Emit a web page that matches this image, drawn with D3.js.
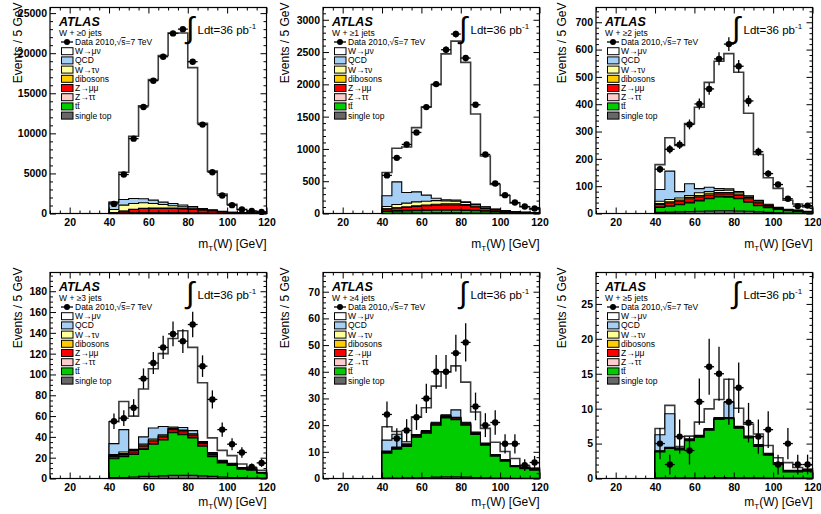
<!DOCTYPE html>
<html>
<head>
<meta charset="utf-8">
<script src="https://cdn.jsdelivr.net/npm/d3@7"></script>
<style>
  body { margin: 0; background: #fff; }
  svg { display: block; }
  text { font-family: "Liberation Sans", Arial, Helvetica, sans-serif; fill: #000; }
</style>
</head>
<body>
<svg id="chart" width="821" height="514"></svg>
<script>
// ---- binning (transverse mass, 5 GeV bins from 40 to 120 GeV) ----
const binLow = [40, 45, 50, 55, 60, 65, 70, 75, 80, 85, 90, 95, 100, 105, 110, 115];
const binWidth = 5;

// ---- panels: jet multiplicity selections ----
const jetLabels = ["W + \u22650 jets", "W + \u22651 jets", "W + \u22652 jets",
                   "W + \u22653 jets", "W + \u22654 jets", "W + \u22655 jets"];
const yMax   = [25700, 3190, 754, 198, 77.2, 29.5];
const yMajor = [5000, 500, 100, 20, 10, 5];
const yMinor = [1000, 100, 20, 5, 2, 1];
const xMajor = [20, 40, 60, 80, 100, 120];
const xMinor = [10, 15, 25, 30, 35, 45, 50, 55, 65, 70, 75, 85, 90, 95, 105, 110, 115];

// ---- data (events per bin), one row per panel ----
const data = [
  [1200, 4860, 9340, 13290, 16570, 19560, 22470, 23000, 18940, 11090, 5150, 2240, 1040, 500, 330, 200],
  [590, 862, 1069, 1255, 1648, 2004, 2536, 2779, 2407, 1684, 914, 465, 284, 170, 108, 77],
  [162, 235, 252, 326, 401, 456, 566, 620, 539, 412, 226, 146, 106, 54, 27, 29],
  [55, 58, 68, 96, 111, 126, 139, 132, 148, 108, 76, 47, 33, 25, 11, 15],
  [24, 15, 18, 23, 30, 40, 40, 47, 51, 27, 20, 21, 13, 13, 5, 6],
  [5, 2, 6, 4, 11, 16, 15, 11, 13, 8, 6, 7, 2, 5, 2, 2]
];

// ---- simulated processes (events per bin), one row per panel ----
const wMuNu = [
  [100, 3400, 7760, 11620, 15040, 18290, 21250, 21460, 17330, 10630, 4830, 2160, 970, 420, 200, 140],
  [361, 520, 705, 995, 1366, 1758, 2258, 2463, 2160, 1395, 787, 383, 234, 135, 85, 55],
  [91, 122, 169, 220, 298, 384, 466, 495, 437, 302, 168, 97, 69, 33, 22, 16],
  [21, 27, 32, 46, 57, 70, 85, 93, 80, 56.5, 14, 9.5, 7.5, 3.5, 1, 2],
  [5, 1, 0.8, 6.5, 8.5, 13.5, 16, 16.5, 15, 7.5, 5.5, 4.6, 3, 2.6, 0.5, 0.3],
  [0.9, 1.2, 0.2, 0.4, 1.9, 2.8, 2.6, 3.3, 2.6, 1.7, 1.5, 1.1, 0.7, 1.1, 0.4, 0.1]
];
const qcd = [
  [830, 700, 620, 500, 410, 300, 280, 220, 200, 100, 70, 40, 25, 15, 10, 5],
  [166, 350, 165, 155, 94, 35, 18, 17, 10, 6, 4, 3, 2, 1, 1, 1],
  [43, 104, 23, 43, 15, 16, 7, 5, 2, 2, 2, 2, 1, 1, 1, 1],
  [10.5, 21.5, 1, 7, 10.5, 8, 1, 2.5, 3, 0.5, 1, 0.5, 0.3, 0.3, 0.2, 0.2],
  [4.1, 4.8, 0.3, 0.3, 0.3, 0.3, 0.3, 2.8, 0.3, 0.2, 0.2, 0.1, 0.1, 0.1, 0.1, 0.1],
  [2.3, 4.8, 0.1, 0.1, 0.1, 0.1, 0.1, 2.2, 0.1, 0.1, 0.1, 0.1, 0.05, 0.05, 0.05, 0.05]
];
const wTauNu = [
  [410, 730, 720, 670, 580, 440, 290, 200, 120, 60, 30, 15, 8, 4, 2, 1],
  [36, 50, 58, 61, 58, 56, 46, 40, 31, 25, 14, 6, 3, 2, 1, 1],
  [9, 8, 8, 7, 10, 8, 7, 8, 7, 5, 4, 3, 2, 1, 1, 0.5],
  [1, 1.5, 0.5, 1, 1, 1, 0.5, 0.5, 0.5, 0.5, 0.3, 0.2, 0.2, 0.1, 0.1, 0.1],
  [0.2, 0.2, 0.1, 0.1, 0.1, 0.1, 0.1, 0.1, 0.1, 0.1, 0.1, 0.1, 0.1, 0.1, 0.1, 0.1],
  [0.05, 0.05, 0.05, 0.05, 0.05, 0.05, 0.05, 0.05, 0.05, 0.05, 0.05, 0.05, 0.05, 0.05, 0.05, 0.05]
];
const dibosons = [
  [10, 20, 30, 40, 50, 60, 60, 60, 50, 40, 30, 20, 12, 8, 5, 3],
  [5, 7, 9, 11, 13, 15, 16, 16, 15, 12, 9, 6, 4, 3, 2, 1],
  [3, 4, 4, 5, 5, 5, 5, 5, 5, 4, 3, 2, 2, 1, 1, 0.5],
  [1, 1, 1, 1, 1, 1, 1, 1, 1, 1, 0.7, 0.5, 0.4, 0.3, 0.2, 0.2],
  [0.2, 0.2, 0.2, 0.2, 0.2, 0.2, 0.2, 0.2, 0.2, 0.2, 0.1, 0.1, 0.1, 0.1, 0.1, 0.1],
  [0.05, 0.05, 0.05, 0.05, 0.05, 0.05, 0.05, 0.05, 0.05, 0.05, 0.05, 0.05, 0.05, 0.05, 0.05, 0.05]
];
const zMuMu = [
  [50, 225, 415, 530, 530, 530, 540, 510, 440, 370, 290, 170, 100, 45, 30, 15],
  [29, 38, 43, 53, 61, 70, 75, 76, 69, 55, 37, 23, 15, 10, 6, 4],
  [9, 10, 11, 13, 13, 11, 9, 10, 10, 11, 9, 5, 2, 2, 2, 1],
  [1.5, 1.5, 2, 2.5, 2.5, 2.5, 2.5, 2.5, 2, 2, 1.5, 1, 0.8, 0.6, 0.5, 0.4],
  [0.3, 0.3, 0.3, 0.3, 0.3, 0.4, 0.5, 0.5, 0.4, 0.3, 0.3, 0.2, 0.2, 0.1, 0.1, 0.1],
  [0.05, 0.05, 0.05, 0.05, 0.05, 0.05, 0.05, 0.05, 0.05, 0.05, 0.05, 0.05, 0.05, 0.05, 0.05, 0.05]
];
const zTauTau = [
  [20, 40, 50, 50, 45, 40, 35, 30, 25, 20, 15, 10, 6, 4, 2, 1],
  [8, 10, 10, 10, 10, 9, 9, 8, 7, 6, 5, 4, 3, 2, 1, 1],
  [2, 2, 2, 2, 2, 2, 2, 2, 2, 2, 1, 1, 1, 0.5, 0.5, 0.3],
  [0.5, 0.5, 0.5, 0.5, 0.5, 0.5, 0.5, 0.5, 0.5, 0.5, 0.5, 0.3, 0.3, 0.2, 0.2, 0.1],
  [0.1, 0.1, 0.1, 0.1, 0.1, 0.1, 0.1, 0.1, 0.1, 0.1, 0.1, 0.1, 0.1, 0.1, 0.1, 0.1],
  [0.02, 0.02, 0.02, 0.02, 0.02, 0.02, 0.02, 0.02, 0.02, 0.02, 0.02, 0.02, 0.02, 0.02, 0.02, 0.02]
];
const ttbar = [
  [10, 20, 30, 35, 40, 40, 40, 35, 30, 25, 20, 15, 10, 8, 5, 4],
  [25, 29, 33, 37, 40, 41, 41, 41, 40, 35, 29, 21, 15, 10, 7, 4],
  [18, 22, 26, 32, 38, 45, 51, 50, 45, 33, 23, 17, 12, 8, 6, 4],
  [18, 20, 21.5, 26, 31, 34.5, 41, 39, 36, 28.5, 19, 13.5, 11.5, 8, 7.5, 4.5],
  [9.3, 10.8, 11.7, 15.2, 16.6, 19.5, 22.1, 21.4, 19.5, 16.1, 12.2, 8.2, 6.3, 4.3, 3.6, 3],
  [3.7, 4.2, 4.0, 5.3, 5.8, 6.8, 8.3, 8.4, 7.1, 5.7, 4.5, 3.3, 2.0, 0.9, 0.9, 1.0]
];
const singleTop = [
  [3, 5, 6, 7, 8, 8, 8, 7, 6, 5, 4, 3, 2, 2, 1, 1],
  [5, 6, 7, 8, 8, 9, 9, 9, 8, 7, 6, 4, 3, 2, 1, 1],
  [4, 5, 6, 7, 8, 9, 10, 10, 9, 8, 6, 4, 3, 2, 1, 1],
  [1, 1, 1.5, 2, 2, 2.5, 3, 3, 3, 2.5, 2, 1.5, 1, 1, 0.5, 0.5],
  [0.2, 0.2, 0.3, 0.3, 0.4, 0.5, 0.6, 0.6, 0.5, 0.4, 0.3, 0.2, 0.2, 0.1, 0.1, 0.1],
  [0.1, 0.1, 0.1, 0.1, 0.1, 0.1, 0.15, 0.15, 0.1, 0.1, 0.1, 0.05, 0.05, 0.05, 0.05, 0.05]
];

// stacking order, bottom to top
const processes = [
  { key: "singleTop", values: singleTop, label: "single top", color: "#676767" },
  { key: "ttbar",     values: ttbar,     label: "tt\u0304",   color: "#00cc00" },
  { key: "zTauTau",   values: zTauTau,   label: "Z\u2192\u03c4\u03c4", color: "#ffcccc" },
  { key: "zMuMu",     values: zMuMu,     label: "Z\u2192\u03bc\u03bc", color: "#ff0000" },
  { key: "dibosons",  values: dibosons,  label: "dibosons",   color: "#ffcc00" },
  { key: "wTauNu",    values: wTauNu,    label: "W\u2192\u03c4\u03bd", color: "#ffff99" },
  { key: "qcd",       values: qcd,       label: "QCD",        color: "#a6cff5" },
  { key: "wMuNu",     values: wMuNu,     label: "W\u2192\u03bc\u03bd", color: "#ffffff" }
];

// ---- layout ----
const svg = d3.select("#chart");
const panelW = 216.5, panelH = 206;
const colLeft = [50, 323, 596];
const rowTop = [7.5, 272.5];
const yTitleOffset = [-32, -38, -34];
const xTitleOffset = [34.5, 27];

function drawPanel(p) {
  const col = p % 3, row = Math.floor(p / 3);
  const g = svg.append("g").attr("transform", `translate(${colLeft[col]},${rowTop[row]})`);
  const x = d3.scaleLinear().domain([10, 120]).range([0, panelW]);
  const y = d3.scaleLinear().domain([0, yMax[p]]).range([panelH, 0]);
  const line = d3.line().x(d => x(d[0])).y(d => y(d[1]));

  // stacked histograms
  const rows = binLow.map((b, i) => {
    const r = { low: b };
    processes.forEach(pr => { r[pr.key] = pr.values[p][i]; });
    return r;
  });
  const series = d3.stack().keys(processes.map(pr => pr.key))(rows);
  series.slice().reverse().forEach(s => {
    const pr = processes[s.index];
    const pts = [[binLow[0], 0]];
    s.forEach((d, i) => { pts.push([binLow[i], d[1]]); pts.push([binLow[i] + binWidth, d[1]]); });
    pts.push([binLow[binLow.length - 1] + binWidth, 0]);
    const isTotal = pr.key === "wMuNu";
    g.append("path")
      .attr("d", line(pts) + "Z")
      .attr("fill", pr.color)
      .attr("stroke", isTotal ? "#3c3c3c" : "#000")
      .attr("stroke-width", isTotal ? 1.6 : 1.1)
      .attr("stroke-linejoin", "miter");
  });

  // frame
  g.append("rect").attr("width", panelW).attr("height", panelH)
    .attr("fill", "none").attr("stroke", "#000").attr("stroke-width", 1.2);

  // axes: ticks drawn inward on all four sides
  const yMajorTicks = d3.range(0, yMax[p] + 1e-9, yMajor[p]);
  const yMinorTicks = d3.range(0, yMax[p] + 1e-9, yMinor[p]).filter(v => Math.abs(v / yMajor[p] - Math.round(v / yMajor[p])) > 1e-6);
  const axes = [
    [d3.axisBottom(x).tickValues(xMajor).tickSize(-6).tickPadding(5), `translate(0,${panelH})`],
    [d3.axisBottom(x).tickValues(xMinor).tickSize(-3).tickFormat(""), `translate(0,${panelH})`],
    [d3.axisTop(x).tickValues(xMajor).tickSize(-6).tickFormat(""), null],
    [d3.axisTop(x).tickValues(xMinor).tickSize(-3).tickFormat(""), null],
    [d3.axisLeft(y).tickValues(yMajorTicks).tickSize(-6).tickPadding(3).tickFormat(d3.format("d")), null],
    [d3.axisLeft(y).tickValues(yMinorTicks).tickSize(-3).tickFormat(""), null],
    [d3.axisRight(y).tickValues(yMajorTicks).tickSize(-6).tickFormat(""), `translate(${panelW},0)`],
    [d3.axisRight(y).tickValues(yMinorTicks).tickSize(-3).tickFormat(""), `translate(${panelW},0)`]
  ];
  axes.forEach(([ax, tr]) => {
    const a = g.append("g").call(ax);
    if (tr) a.attr("transform", tr);
    a.select(".domain").remove();
    a.selectAll("line").attr("stroke", "#000").attr("stroke-width", 1);
    a.selectAll("text")
      .attr("font-family", "'Liberation Sans', Arial, sans-serif")
      .attr("font-size", 10.5).attr("font-weight", "bold").attr("fill", "#000");
  });

  // axis titles
  g.append("text")
    .attr("transform", `translate(${yTitleOffset[col] + 4},-5) rotate(-90)`)
    .attr("text-anchor", "end").attr("font-size", 12)
    .text("Events / 5 GeV");
  const xt = g.append("text")
    .attr("x", panelW).attr("y", panelH + xTitleOffset[row])
    .attr("text-anchor", "end").attr("font-size", 12);
  xt.append("tspan").text("m");
  xt.append("tspan").attr("font-size", 8).attr("dy", 3).text("T");
  xt.append("tspan").attr("dy", -3).text("(W) [GeV]");

  // data points with statistical errors
  const pts = g.append("g");
  data[p].forEach((n, i) => {
    const xc = binLow[i] + binWidth / 2;
    const err = Math.sqrt(n);
    pts.append("line")
      .attr("x1", x(binLow[i])).attr("x2", x(binLow[i] + binWidth))
      .attr("y1", y(n)).attr("y2", y(n))
      .attr("stroke", "#000").attr("stroke-width", 1.3);
    pts.append("line")
      .attr("x1", x(xc)).attr("x2", x(xc))
      .attr("y1", y(Math.max(0, n - err))).attr("y2", y(n + err))
      .attr("stroke", "#000").attr("stroke-width", 1.3);
    pts.append("circle").attr("cx", x(xc)).attr("cy", y(n)).attr("r", 3.2).attr("fill", "#000");
  });

  // labels
  g.append("text").attr("x", 9).attr("y", 18)
    .attr("font-size", 12.5).attr("font-weight", "bold").attr("font-style", "italic")
    .text("ATLAS");
  g.append("text").attr("x", 9).attr("y", 28.5).attr("font-size", 8.5).text(jetLabels[p]);

  // luminosity
  g.append("text").attr("x", 136).attr("y", 30).attr("font-size", 30)
    .attr("font-family", "'DejaVu Sans', sans-serif").attr("font-weight", "200")
    .text("\u222b");
  const lum = g.append("text").attr("x", 147.5).attr("y", 26).attr("font-size", 11.5);
  lum.append("tspan").text("Ldt=36 pb");
  lum.append("tspan").attr("font-size", 8).attr("dy", -5).text("-1");

  // legend
  const lg = g.append("g").attr("transform", "translate(11,0)");
  const rowY = i => 34.5 + i * 9.2;
  lg.append("line").attr("x1", 0).attr("x2", 12).attr("y1", rowY(0)).attr("y2", rowY(0))
    .attr("stroke", "#000").attr("stroke-width", 1.3);
  lg.append("circle").attr("cx", 6).attr("cy", rowY(0)).attr("r", 3).attr("fill", "#000");
  const dt = lg.append("text").attr("x", 14).attr("y", rowY(0) + 3).attr("font-size", 8.5);
  dt.append("tspan").text("Data 2010,\u221a");
  dt.append("tspan").attr("text-decoration", "overline").text("s");
  dt.append("tspan").text("=7 TeV");
  processes.slice().reverse().forEach((pr, i) => {
    const yy = rowY(i + 1);
    lg.append("rect").attr("x", 0.5).attr("y", yy - 3.5).attr("width", 11.5).attr("height", 7)
      .attr("fill", pr.color).attr("stroke", "#000").attr("stroke-width", 1);
    lg.append("text").attr("x", 14).attr("y", yy + 3).attr("font-size", 8.5).text(pr.label);
  });
}

for (let p = 0; p < 6; p++) drawPanel(p);
</script>
</body>
</html>
